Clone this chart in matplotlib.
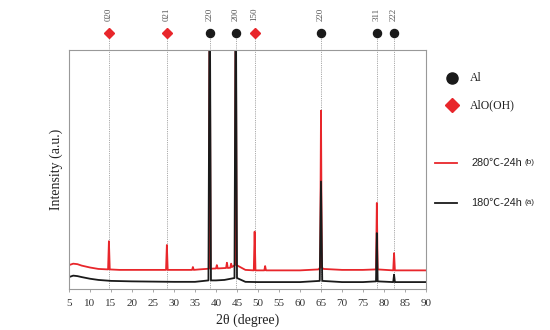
import matplotlib.pyplot as plt
from matplotlib.lines import Line2D

# XRD patterns (intensity in arbitrary units, 0-100 = axis height)
x_red = [5, 6, 7, 8, 10, 12, 14.3, 14.5, 14.7, 17, 20, 25, 28.1, 28.3, 28.5, 32, 34.3, 34.5, 34.7,
         36, 38.3, 38.5, 38.7, 40.0, 40.2, 40.4, 42.4, 42.6, 42.8, 43.4, 43.6, 43.8, 44.5, 44.7, 44.9,
         47, 49.0, 49.2, 49.4, 51.5, 51.7, 51.9, 55, 60, 64.4, 64.8, 65.0, 65.2, 65.6, 70, 75,
         78.1, 78.3, 78.5, 82.2, 82.4, 82.6, 86, 90]
y_red = [10.0, 10.6, 10.4, 9.8, 9.0, 8.4, 8.2, 20.0, 8.2, 8.0, 8.0, 8.0, 8.0, 18.4, 8.0, 8.0, 8.0, 9.2, 8.0,
         8.2, 8.5, 140, 8.5, 8.6, 10.0, 8.6, 8.8, 11.0, 8.8, 8.9, 10.6, 9.2, 10.0, 140, 10.0,
         8.0, 7.8, 24.0, 7.8, 7.8, 9.6, 7.8, 7.8, 7.8, 8.2, 9.0, 74.6, 9.0, 8.4, 8.0, 8.0,
         8.2, 36.0, 8.2, 7.8, 15.0, 7.8, 7.8, 7.8]

x_black = [5, 6, 7, 8, 10, 12, 15, 20, 25, 30, 35, 38.2, 38.5, 38.8, 40, 42, 44.4, 44.7, 45.0,
           47, 50, 55, 60, 64.7, 65.0, 65.3, 70, 75, 78.1, 78.3, 78.5, 82.2, 82.4, 82.6, 86, 90]
y_black = [5.0, 5.6, 5.4, 5.0, 4.3, 3.8, 3.4, 3.2, 3.1, 3.0, 3.0, 3.6, 140, 3.6, 3.6, 3.8, 4.6, 140, 4.6,
           3.0, 2.9, 2.9, 2.9, 3.4, 45.0, 3.4, 2.9, 2.9, 3.2, 23.4, 3.2, 2.9, 6.0, 2.9, 2.9, 2.9]

# reference peak positions and indices
al_pos = [38.5, 44.7, 65.0, 78.3, 82.4]
al_hkl = ['220', '200', '220', '311', '222']
aloh_pos = [14.5, 28.3, 49.2]
aloh_hkl = ['020', '021', '150']

red = '#e8262b'
blk = '#1a1a1a'
grey = '#8c8c8c'

fig = plt.figure(figsize=(5.5, 3.3), dpi=100)
ax = fig.add_axes([0.1255, 0.1242, 0.649, 0.7242])

ax.plot(x_red, y_red, color=red, lw=1.3)
ax.plot(x_black, y_black, color=blk, lw=1.3)

ax.set_xlim(5, 90)
ax.set_ylim(0, 100)
ax.set_xticks(range(5, 91, 5))
ax.set_yticks([])

# dotted guide lines, markers and hkl labels above the axes
y_mark = 107
for pos, lab in zip(al_pos, al_hkl):
    ax.plot([pos, pos], [0, y_mark], ls=(0, (1, 1.2)), color=grey, lw=0.6, clip_on=False, zorder=0)
    ax.plot(pos, y_mark, 'o', color=blk, ms=5.8, clip_on=False)
    ax.text(pos, 115, lab, rotation=90, ha='center', va='center', fontsize=6.5,
            color='#555555', family='Liberation Serif')
for pos, lab in zip(aloh_pos, aloh_hkl):
    ax.plot([pos, pos], [0, y_mark], ls=(0, (1, 1.2)), color=grey, lw=0.6, clip_on=False, zorder=0)
    ax.plot(pos, y_mark, 'D', color=red, ms=5.2, clip_on=False)
    ax.text(pos, 115, lab, rotation=90, ha='center', va='center', fontsize=6.5,
            color='#555555', family='Liberation Serif')

for s in ax.spines.values():
    s.set_color('#999999')
    s.set_linewidth(0.8)
ax.tick_params(axis='x', direction='out', length=2.5, width=0.6, color='#999999',
               labelsize=8, labelcolor='#333333', pad=5)
for t in ax.get_xticklabels():
    t.set_family('Liberation Serif')

ax.set_xlabel('2θ (degree)', family='Liberation Serif', fontsize=10, color='#222222', labelpad=4)
ax.set_ylabel('Intensity (a.u.)', family='Liberation Serif', fontsize=10, color='#222222', labelpad=4)

# legend, placed by hand to the right of the axes
W, H = 550, 330
sans = ['Liberation Sans', 'Noto Sans CJK SC', 'DejaVu Sans']
fig.add_artist(Line2D([452 / W], [1 - 78 / H], marker='o', color=blk, ms=8, transform=fig.transFigure))
fig.text(470 / W, 1 - 78 / H, 'Al', family='Liberation Serif', fontsize=8.5, va='center', color='#222222')
fig.add_artist(Line2D([452 / W], [1 - 105 / H], marker='D', color=red, ms=7.5, transform=fig.transFigure))
fig.text(470 / W, 1 - 105 / H, 'AlO(OH)', family='Liberation Serif', fontsize=8.5, va='center', color='#222222')

for yy, col, lab, tag in [(162.7, red, '280℃-24h', '(b)'), (202.7, blk, '180℃-24h', '(a)')]:
    fig.add_artist(Line2D([435 / W, 457 / W], [1 - yy / H] * 2, color=col, lw=1.3, transform=fig.transFigure))
    t = fig.text(471 / W, 1 - yy / H, lab, family=sans, fontsize=7.8, va='center', color='#222222')
    fig.canvas.draw()
    fig.text(t.get_window_extent().x1 / W + 3 / W, 1 - (yy - 0.5) / H, tag, family=sans,
             fontsize=5.8, va='center', color='#222222')

fig.savefig('out.png', dpi=100)
